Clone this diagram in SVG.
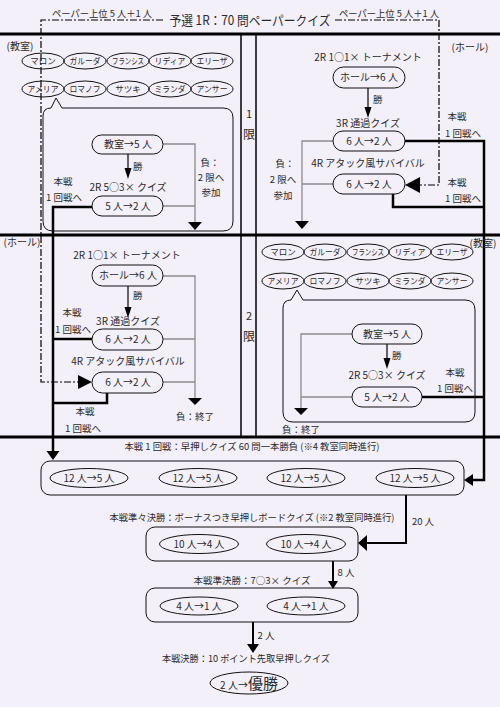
<svg xmlns="http://www.w3.org/2000/svg" width="500" height="707" viewBox="0 0 500 707">
<style>
text{font-family:"Noto Sans CJK JP","Noto Sans",sans-serif;fill:#2a2a2a;font-size:10px;text-anchor:middle}
.s{font-size:9.5px}
.n{font-size:8.5px}
.l{text-anchor:start}
.pill,.el,.box,.bub{fill:none;stroke:#111;stroke-width:1}
.thick{fill:none;stroke:#000;stroke-width:2.5}
.med{fill:none;stroke:#000;stroke-width:2}
.gray{fill:none;stroke:#8a8a8a;stroke-width:1.3}
.dd{fill:none;stroke:#000;stroke-width:1.2;stroke-dasharray:7 2 2 2}
.ah{fill:#000}
.sep{stroke:#000;stroke-width:3}
.vs{stroke:#000;stroke-width:1.5}
</style>
<rect width="500" height="707" fill="#f4f0f9"/>
<g id="frame">
<line class="sep" x1="0" y1="34" x2="500" y2="34"/>
<line class="sep" x1="0" y1="235" x2="500" y2="235"/>
<line class="sep" x1="0" y1="437" x2="500" y2="437"/>
<line class="vs" x1="241" y1="34" x2="241" y2="436"/>
<line class="vs" x1="256" y1="34" x2="256" y2="436"/>
<text x="249" y="118" style="font-size:11px">1</text>
<text x="249" y="139" style="font-size:12px">限</text>
<text x="249" y="320" style="font-size:11px">2</text>
<text x="249" y="341" style="font-size:12px">限</text>
</g>
<g id="title">
<text x="250" y="25" style="font-size:13px" textLength="161" lengthAdjust="spacingAndGlyphs">予選 1R：70 問ペーパークイズ</text>
<text x="102" y="17" class="s" textLength="100" lengthAdjust="spacingAndGlyphs">ペーパー上位 5 人＋1 人</text>
<text x="389" y="17" class="s" textLength="100" lengthAdjust="spacingAndGlyphs">ペーパー上位 5 人＋1 人</text>
</g>
<g id="connectors">
<path class="dd" d="M163,20 H41 V382 H78"/>
<polygon class="ah" points="78,375 92,382 78,389"/>
<path class="dd" d="M335,20 H439 V185 H420"/>
<polygon class="ah" points="420,177 405,185 420,193"/>
<line x1="128" y1="154" x2="128" y2="170" stroke="#000" stroke-width="1.2"/>
<polygon class="ah" points="124.5,168 131.5,168 128,179"/>
<path class="gray" d="M163,144 H195 V223 M163,206 H195"/>
<polygon class="ah" points="188,222 202,222 195,230"/>
<path class="thick" d="M92,207 H53 V452"/>
<polygon class="ah" points="46.5,451 59.5,451 53,460"/>
<line x1="368" y1="88" x2="368" y2="109" stroke="#000" stroke-width="1.2"/>
<polygon class="ah" points="364.5,107 371.5,107 368,118"/>
<path class="gray" d="M333,141 H302 V222 M333,184 H302"/>
<polygon class="ah" points="295,221 309,221 302,229"/>
<path class="thick" d="M405,141 H484 V480 H473"/>
<path class="thick" d="M393,194 V207 H484"/>
<polygon class="ah" points="473,474 464,480 473,486"/>
<line x1="128" y1="286" x2="128" y2="309" stroke="#000" stroke-width="1.2"/>
<polygon class="ah" points="124.5,307 131.5,307 128,318"/>
<path class="thick" d="M92,339 H53 M107,393 V403 H53"/>
<path class="gray" d="M163,276 H195 V398 M163,339 H195 M163,382 H195"/>
<polygon class="ah" points="188,398 202,398 195,405"/>
<line x1="387" y1="344" x2="387" y2="360" stroke="#000" stroke-width="1.2"/>
<polygon class="ah" points="383.5,358 390.5,358 387,369"/>
<path class="thick" d="M422,397 H484"/>
<path class="gray" d="M352,334 H301 V408 M352,397 H301"/>
<polygon class="ah" points="294,408 308,408 301,415"/>
<path class="med" d="M406,495 V543 H367"/>
<polygon class="ah" points="367,535 358,543 367,551"/>
<line class="med" x1="333" y1="561" x2="333" y2="582"/>
<polygon class="ah" points="328,581 338,581 333,589"/>
<line class="med" x1="253" y1="622" x2="253" y2="645"/>
<polygon class="ah" points="247,644 259,644 253,653"/>
</g>
<g id="g1-left">
<text x="20" y="50">(教室)</text>
<ellipse class="el" cx="43" cy="61" rx="21" ry="8"/><text class="n" x="43" y="64">マロン</text>
<ellipse class="el" cx="85" cy="61" rx="21" ry="8"/><text class="n" x="85" y="64" textLength="31" lengthAdjust="spacingAndGlyphs">ガルーダ</text>
<ellipse class="el" cx="128" cy="61" rx="21" ry="8"/><text class="n" x="128" y="64" textLength="32" lengthAdjust="spacingAndGlyphs">フランシス</text>
<ellipse class="el" cx="170" cy="61" rx="21" ry="8"/><text class="n" x="170" y="64" textLength="31" lengthAdjust="spacingAndGlyphs">リディア</text>
<ellipse class="el" cx="212" cy="61" rx="21" ry="8"/><text class="n" x="212" y="64" textLength="31" lengthAdjust="spacingAndGlyphs">エリーザ</text>
<ellipse class="el" cx="43" cy="89" rx="21" ry="8"/><text class="n" x="43" y="92" textLength="31" lengthAdjust="spacingAndGlyphs">アメリア</text>
<ellipse class="el" cx="85" cy="89" rx="21" ry="8"/><text class="n" x="85" y="92" textLength="31" lengthAdjust="spacingAndGlyphs">ロマノフ</text>
<ellipse class="el" cx="128" cy="89" rx="21" ry="8"/><text class="n" x="128" y="92">サツキ</text>
<ellipse class="el" cx="170" cy="89" rx="21" ry="8"/><text class="n" x="170" y="92" textLength="31" lengthAdjust="spacingAndGlyphs">ミランダ</text>
<ellipse class="el" cx="212" cy="89" rx="21" ry="8"/><text class="n" x="212" y="92" textLength="31" lengthAdjust="spacingAndGlyphs">アンサー</text>
<path class="bub" d="M51,108 L56,98 L62,108 H223 Q233,108 233,118 V221 Q233,231 223,231 H53 Q43,231 43,221 V116 Q43,108 51,108 Z"/>
<rect class="pill" x="92" y="135" width="71" height="19" rx="9.5"/><text x="128" y="148">教室→5 人</text>
<text class="s l" x="133" y="170">勝</text>
<text x="128" y="191">2R 5○3× クイズ</text>
<rect class="pill" x="92" y="196" width="71" height="20" rx="10"/><text x="128" y="209.5">5 人→2 人</text>
<text class="s" x="63" y="185">本戦</text>
<text class="s" x="64" y="201">1 回戦へ</text>
<text class="s" x="210" y="166">負：</text>
<text class="s" x="211" y="181">2 限へ</text>
<text class="s" x="211" y="196">参加</text>
</g>
<g id="g1-right">
<text x="470" y="51">(ホール)</text>
<text x="368" y="61">2R 1○1× トーナメント</text>
<rect class="pill" x="333" y="67" width="72" height="21" rx="10.5"/><text x="369" y="81">ホール→6 人</text>
<text class="s l" x="373" y="103">勝</text>
<text x="368" y="127">3R 通過クイズ</text>
<rect class="pill" x="333" y="131" width="72" height="20" rx="10"/><text x="369" y="144.5">6 人→2 人</text>
<text x="368" y="167">4R アタック風サバイバル</text>
<rect class="pill" x="333" y="174" width="72" height="20" rx="10"/><text x="369" y="187.5">6 人→2 人</text>
<text class="s" x="285" y="167">負：</text>
<text class="s" x="283" y="183">2 限へ</text>
<text class="s" x="283" y="199">参加</text>
<text class="s" x="457" y="120">本戦</text>
<text class="s" x="463" y="137">1 回戦へ</text>
<text class="s" x="457" y="186">本戦</text>
<text class="s" x="463" y="202">1 回戦へ</text>
</g>
<g id="g2-left">
<text x="22" y="246">(ホール)</text>
<text x="127" y="259">2R 1○1× トーナメント</text>
<rect class="pill" x="92" y="265" width="71" height="21" rx="10.5"/><text x="128" y="279">ホール→6 人</text>
<text class="s l" x="133" y="299">勝</text>
<text x="128" y="325">3R 通過クイズ</text>
<rect class="pill" x="92" y="329" width="71" height="21" rx="10.5"/><text x="128" y="343">6 人→2 人</text>
<text x="128" y="365">4R アタック風サバイバル</text>
<rect class="pill" x="92" y="372" width="71" height="21" rx="10.5"/><text x="128" y="386">6 人→2 人</text>
<text class="s" x="195" y="420">負：終了</text>
<text class="s" x="72" y="316">本戦</text>
<text class="s" x="73" y="333">1 回戦へ</text>
<text class="s" x="85" y="415">本戦</text>
<text class="s" x="83" y="432">1 回戦へ</text>
</g>
<g id="g2-right">
<ellipse class="el" cx="283" cy="252" rx="21" ry="8"/><text class="n" x="283" y="255">マロン</text>
<ellipse class="el" cx="325" cy="252" rx="21" ry="8"/><text class="n" x="325" y="255" textLength="31" lengthAdjust="spacingAndGlyphs">ガルーダ</text>
<ellipse class="el" cx="368" cy="252" rx="21" ry="8"/><text class="n" x="368" y="255" textLength="32" lengthAdjust="spacingAndGlyphs">フランシス</text>
<ellipse class="el" cx="410" cy="252" rx="21" ry="8"/><text class="n" x="410" y="255" textLength="31" lengthAdjust="spacingAndGlyphs">リディア</text>
<ellipse class="el" cx="452" cy="252" rx="21" ry="8"/><text class="n" x="452" y="255" textLength="31" lengthAdjust="spacingAndGlyphs">エリーザ</text>
<ellipse class="el" cx="283" cy="281" rx="21" ry="8"/><text class="n" x="283" y="284" textLength="31" lengthAdjust="spacingAndGlyphs">アメリア</text>
<ellipse class="el" cx="325" cy="281" rx="21" ry="8"/><text class="n" x="325" y="284" textLength="31" lengthAdjust="spacingAndGlyphs">ロマノフ</text>
<ellipse class="el" cx="368" cy="281" rx="21" ry="8"/><text class="n" x="368" y="284">サツキ</text>
<ellipse class="el" cx="410" cy="281" rx="21" ry="8"/><text class="n" x="410" y="284" textLength="31" lengthAdjust="spacingAndGlyphs">ミランダ</text>
<ellipse class="el" cx="452" cy="281" rx="21" ry="8"/><text class="n" x="452" y="284" textLength="31" lengthAdjust="spacingAndGlyphs">アンサー</text>
<text x="483" y="247">(教室)</text>
<path class="bub" d="M291,300 L297,290 L303,300 H465 Q475,300 475,310 V412 Q475,422 465,422 H293 Q283,422 283,412 V308 Q283,300 291,300 Z"/>
<rect class="pill" x="352" y="324" width="70" height="20" rx="10"/><text x="387" y="337.5">教室→5 人</text>
<text class="s l" x="392" y="359">勝</text>
<text x="387" y="379">2R 5○3× クイズ</text>
<rect class="pill" x="352" y="387" width="70" height="20" rx="10"/><text x="387" y="400.5">5 人→2 人</text>
<text class="s" x="301" y="433">負：終了</text>
<text class="s" x="455" y="376">本戦</text>
<text class="s" x="455" y="392">1 回戦へ</text>
</g>
<g id="r1">
<text class="s" x="252" y="450" textLength="255" lengthAdjust="spacingAndGlyphs">本戦 1 回戦：早押しクイズ 60 問一本勝負 (※4 教室同時進行)</text>
<rect class="box" x="41" y="461" width="423" height="34" rx="9"/>
<ellipse class="el" cx="89" cy="478" rx="39" ry="9.5"/><text x="89" y="481.5">12 人→5 人</text>
<ellipse class="el" cx="198" cy="478" rx="39" ry="9.5"/><text x="198" y="481.5">12 人→5 人</text>
<ellipse class="el" cx="306" cy="478" rx="39" ry="9.5"/><text x="306" y="481.5">12 人→5 人</text>
<ellipse class="el" cx="415" cy="478" rx="39" ry="9.5"/><text x="415" y="481.5">12 人→5 人</text>
<text class="s" x="423" y="525">20 人</text>
</g>
<g id="r2">
<text class="s" x="252" y="521" textLength="285" lengthAdjust="spacingAndGlyphs">本戦準々決勝：ボーナスつき早押しボードクイズ (※2 教室同時進行)</text>
<rect class="box" x="146" y="527" width="212" height="34" rx="9"/>
<ellipse class="el" cx="199" cy="544" rx="39.5" ry="9.5"/><text x="199" y="547.5">10 人→4 人</text>
<ellipse class="el" cx="306" cy="544" rx="39.5" ry="9.5"/><text x="306" y="547.5">10 人→4 人</text>
<text class="s" x="346" y="576">8 人</text>
</g>
<g id="r3">
<text class="s" x="252" y="584">本戦準決勝：7○3× クイズ</text>
<rect class="box" x="146" y="588" width="212" height="34" rx="9"/>
<ellipse class="el" cx="199" cy="606" rx="39" ry="9"/><text x="199" y="609.5">4 人→1 人</text>
<ellipse class="el" cx="306" cy="606" rx="39" ry="9"/><text x="306" y="609.5">4 人→1 人</text>
<text class="s" x="266" y="639">2 人</text>
</g>
<g id="final">
<text class="s" x="246" y="662" textLength="168" lengthAdjust="spacingAndGlyphs">本戦決勝：10 ポイント先取早押しクイズ</text>
<ellipse class="el" cx="249" cy="683" rx="39" ry="11"/>
<text x="249" y="689"><tspan style="font-size:10px">2 人→</tspan><tspan style="font-size:15px">優勝</tspan></text>
</g>
</svg>
